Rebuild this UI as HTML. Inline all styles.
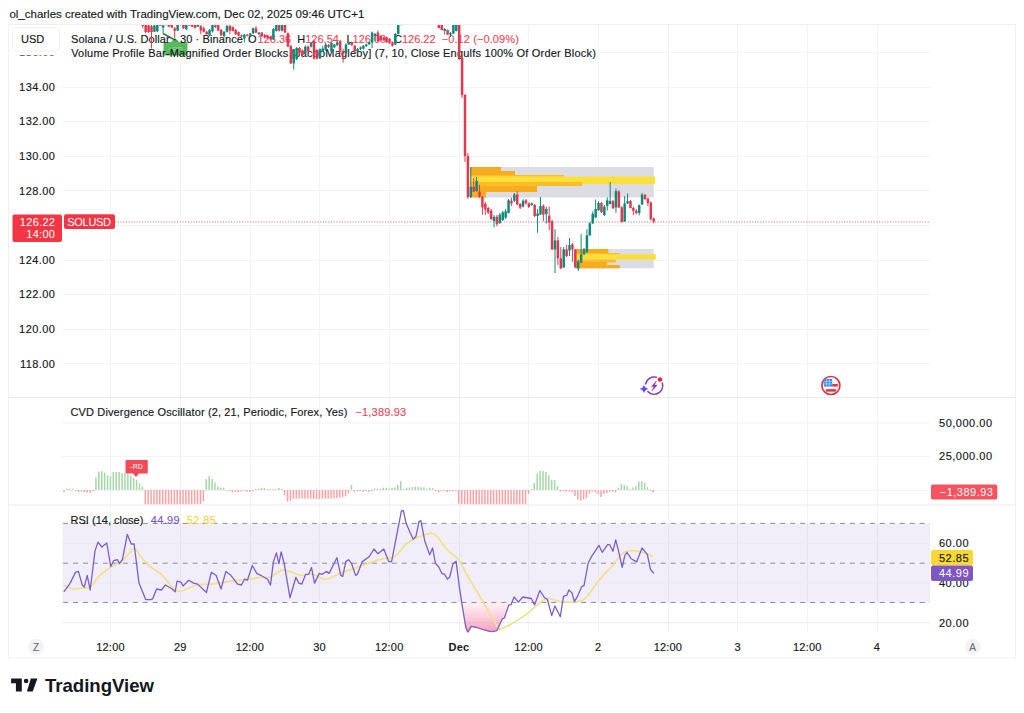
<!DOCTYPE html>
<html><head><meta charset="utf-8"><style>
html,body{margin:0;padding:0;background:#fff;width:1024px;height:713px;overflow:hidden}
svg{display:block;font-family:"Liberation Sans", sans-serif}
</style></head><body>
<svg width="1024" height="713" viewBox="0 0 1024 713">
<rect x="0" y="0" width="1024" height="713" fill="#ffffff"/>
<text x="9.4" y="18.2" font-size="11.5" fill="#131722" stroke="#131722" stroke-width="0.15">ol_charles created with TradingView.com, Dec 02, 2025 09:46 UTC+1</text>
<line x1="110.5" y1="25" x2="110.5" y2="632" stroke="#f2f3f5" stroke-width="1"/>
<line x1="180.5" y1="25" x2="180.5" y2="632" stroke="#f2f3f5" stroke-width="1"/>
<line x1="250.5" y1="25" x2="250.5" y2="632" stroke="#f2f3f5" stroke-width="1"/>
<line x1="319.5" y1="25" x2="319.5" y2="632" stroke="#f2f3f5" stroke-width="1"/>
<line x1="389.5" y1="25" x2="389.5" y2="632" stroke="#f2f3f5" stroke-width="1"/>
<line x1="459.5" y1="25" x2="459.5" y2="632" stroke="#f2f3f5" stroke-width="1"/>
<line x1="528.5" y1="25" x2="528.5" y2="632" stroke="#f2f3f5" stroke-width="1"/>
<line x1="598.5" y1="25" x2="598.5" y2="632" stroke="#f2f3f5" stroke-width="1"/>
<line x1="668.5" y1="25" x2="668.5" y2="632" stroke="#f2f3f5" stroke-width="1"/>
<line x1="737.5" y1="25" x2="737.5" y2="632" stroke="#f2f3f5" stroke-width="1"/>
<line x1="807.5" y1="25" x2="807.5" y2="632" stroke="#f2f3f5" stroke-width="1"/>
<line x1="877.5" y1="25" x2="877.5" y2="632" stroke="#f2f3f5" stroke-width="1"/>
<line x1="62.5" y1="52.5" x2="930" y2="52.5" stroke="#f2f3f5"/>
<line x1="62.5" y1="87.5" x2="930" y2="87.5" stroke="#f2f3f5"/>
<line x1="62.5" y1="121.5" x2="930" y2="121.5" stroke="#f2f3f5"/>
<line x1="62.5" y1="156.5" x2="930" y2="156.5" stroke="#f2f3f5"/>
<line x1="62.5" y1="190.5" x2="930" y2="190.5" stroke="#f2f3f5"/>
<line x1="62.5" y1="225.5" x2="930" y2="225.5" stroke="#f2f3f5"/>
<line x1="62.5" y1="260.5" x2="930" y2="260.5" stroke="#f2f3f5"/>
<line x1="62.5" y1="294.5" x2="930" y2="294.5" stroke="#f2f3f5"/>
<line x1="62.5" y1="329.5" x2="930" y2="329.5" stroke="#f2f3f5"/>
<line x1="62.5" y1="363.5" x2="930" y2="363.5" stroke="#f2f3f5"/>
<rect x="470.0" y="167.0" width="183.7" height="30.5" fill="#dbdce4" fill-opacity="1"/>
<rect x="470.0" y="167.0" width="31.0" height="4.0" fill="#f7ab1f" fill-opacity="1"/>
<rect x="470.0" y="171.0" width="45.0" height="4.0" fill="#f7ab1f" fill-opacity="1"/>
<rect x="470.0" y="175.0" width="94.0" height="3.0" fill="#fbbd26" fill-opacity="1"/>
<rect x="470.0" y="176.5" width="185.0" height="7.5" fill="#fbe03c" fill-opacity="1"/>
<rect x="470.0" y="182.0" width="112.0" height="4.0" fill="#fbbd26" fill-opacity="1"/>
<rect x="470.0" y="186.0" width="67.0" height="6.0" fill="#f7ab1f" fill-opacity="1"/>
<rect x="470.0" y="192.0" width="16.0" height="5.5" fill="#f7ab1f" fill-opacity="1"/>
<rect x="575.3" y="249.0" width="78.4" height="19.3" fill="#dbdce4" fill-opacity="1"/>
<rect x="575.3" y="249.0" width="33.0" height="4.0" fill="#f7ab1f" fill-opacity="1"/>
<rect x="575.3" y="253.0" width="44.5" height="2.0" fill="#fbbd26" fill-opacity="1"/>
<rect x="575.3" y="254.2" width="80.5" height="5.3" fill="#fbe03c" fill-opacity="1"/>
<rect x="575.3" y="259.5" width="40.5" height="3.0" fill="#fbbd26" fill-opacity="1"/>
<rect x="575.3" y="262.0" width="31.7" height="3.0" fill="#f7ab1f" fill-opacity="1"/>
<rect x="575.3" y="265.0" width="44.5" height="3.3" fill="#f7ab1f" fill-opacity="1"/>
<rect x="66" y="28.5" width="456" height="18.5" fill="#ffffff"/>
<rect x="66" y="47" width="534" height="15" fill="#ffffff"/>
<line x1="163" y1="33.5" x2="177.6" y2="41.5" stroke="#2d7a35" stroke-width="1.5"/>
<path d="M163.5 42 L171 42 L175 38 L179 42 L186.5 42 Q187.5 42 187.5 43 L187.5 54.5 Q187.5 55.5 186.5 55.5 L164.5 55.5 Q163.5 55.5 163.5 54.5 Z" fill="#46b04c" fill-opacity="0.9"/>
<text x="175.5" y="51.5" font-size="7" fill="#ffffff" fill-opacity="0.45" text-anchor="middle">+RD</text>
<text x="71" y="42.6" font-size="11" letter-spacing="0.11" fill="#131722" stroke="#131722" stroke-width="0.15">Solana / U.S. Dollar · 30 · Binance</text>
<text x="247.9" y="42.6" font-size="11" fill="#131722" stroke="#131722" stroke-width="0.15">O</text>
<text x="257.6" y="42.6" font-size="11" fill="#e24c5e" stroke="#e24c5e" stroke-width="0.15">126.36</text>
<text x="297.3" y="42.6" font-size="11" fill="#131722" stroke="#131722" stroke-width="0.15">H<tspan fill="#e24c5e" stroke="#e24c5e">126.54</tspan></text>
<text x="346.4" y="42.6" font-size="11" fill="#131722" stroke="#131722" stroke-width="0.15">L<tspan fill="#e24c5e" stroke="#e24c5e">126.00</tspan></text>
<text x="394" y="42.6" font-size="11" fill="#131722" stroke="#131722" stroke-width="0.15">C<tspan fill="#e24c5e" stroke="#e24c5e">126.22</tspan></text>
<text x="441.7" y="42.6" font-size="11" letter-spacing="0.1" fill="#e24c5e" stroke="#e24c5e" stroke-width="0.15">−0.12 (−0.09%)</text>
<text x="71.2" y="57.4" font-size="11" letter-spacing="0.2" fill="#131722" stroke="#131722" stroke-width="0.15">Volume Profile Bar-Magnified Order Blocks [JacobMagleby] (7, 10, Close Engulfs 100% Of Order Block)</text>
<defs><clipPath id="cm"><rect x="62.5" y="24.5" width="867.5" height="372.5"/></clipPath><clipPath id="cc"><rect x="62.5" y="397.5" width="867.5" height="107"/></clipPath><clipPath id="cr"><rect x="62.5" y="505.5" width="867.5" height="127"/></clipPath><linearGradient id="os" x1="0" y1="0" x2="0" y2="1"><stop offset="0" stop-color="#f48fb1" stop-opacity="0.12"/><stop offset="1" stop-color="#f06292" stop-opacity="0.62"/></linearGradient></defs>
<g clip-path="url(#cm)">
<line x1="64.39" y1="-42.4" x2="64.39" y2="-28.0" stroke="#11897a" stroke-width="1"/>
<rect x="63.14" y="-40.4" width="2.5" height="10.4" fill="#11897a"/>
<line x1="67.29" y1="-42.4" x2="67.29" y2="-36.6" stroke="#dd3a52" stroke-width="1"/>
<rect x="66.04" y="-40.4" width="2.5" height="1.8" fill="#dd3a52"/>
<line x1="70.20" y1="-40.6" x2="70.20" y2="-32.8" stroke="#dd3a52" stroke-width="1"/>
<rect x="68.95" y="-38.6" width="2.5" height="3.8" fill="#dd3a52"/>
<line x1="73.10" y1="-39.5" x2="73.10" y2="-32.8" stroke="#11897a" stroke-width="1"/>
<rect x="71.85" y="-37.5" width="2.5" height="2.7" fill="#11897a"/>
<line x1="76.00" y1="-39.5" x2="76.00" y2="-34.2" stroke="#dd3a52" stroke-width="1"/>
<rect x="74.75" y="-37.5" width="2.5" height="1.3" fill="#dd3a52"/>
<line x1="78.91" y1="-38.2" x2="78.91" y2="-32.7" stroke="#dd3a52" stroke-width="1"/>
<rect x="77.66" y="-36.2" width="2.5" height="1.6" fill="#dd3a52"/>
<line x1="81.81" y1="-39.0" x2="81.81" y2="-32.7" stroke="#11897a" stroke-width="1"/>
<rect x="80.56" y="-37.0" width="2.5" height="2.3" fill="#11897a"/>
<line x1="84.71" y1="-39.0" x2="84.71" y2="-31.4" stroke="#dd3a52" stroke-width="1"/>
<rect x="83.46" y="-37.0" width="2.5" height="3.5" fill="#dd3a52"/>
<line x1="87.62" y1="-35.4" x2="87.62" y2="-29.6" stroke="#dd3a52" stroke-width="1"/>
<rect x="86.37" y="-33.4" width="2.5" height="1.9" fill="#dd3a52"/>
<line x1="90.52" y1="-33.6" x2="90.52" y2="-27.3" stroke="#dd3a52" stroke-width="1"/>
<rect x="89.27" y="-31.6" width="2.5" height="2.2" fill="#dd3a52"/>
<line x1="93.42" y1="-36.0" x2="93.42" y2="-27.3" stroke="#11897a" stroke-width="1"/>
<rect x="92.17" y="-34.0" width="2.5" height="4.7" fill="#11897a"/>
<line x1="96.33" y1="-36.0" x2="96.33" y2="-29.4" stroke="#dd3a52" stroke-width="1"/>
<rect x="95.08" y="-34.0" width="2.5" height="2.6" fill="#dd3a52"/>
<line x1="99.23" y1="-34.2" x2="99.23" y2="-29.4" stroke="#11897a" stroke-width="1"/>
<rect x="97.98" y="-32.2" width="2.5" height="1.0" fill="#11897a"/>
<line x1="102.13" y1="-34.2" x2="102.13" y2="-23.5" stroke="#dd3a52" stroke-width="1"/>
<rect x="100.88" y="-32.2" width="2.5" height="6.7" fill="#dd3a52"/>
<line x1="105.03" y1="-27.5" x2="105.03" y2="-23.5" stroke="#11897a" stroke-width="1"/>
<rect x="103.78" y="-25.5" width="2.5" height="1.0" fill="#11897a"/>
<line x1="107.94" y1="-31.8" x2="107.94" y2="-23.5" stroke="#11897a" stroke-width="1"/>
<rect x="106.69" y="-29.8" width="2.5" height="4.3" fill="#11897a"/>
<line x1="110.84" y1="-31.8" x2="110.84" y2="-19.3" stroke="#dd3a52" stroke-width="1"/>
<rect x="109.59" y="-29.8" width="2.5" height="8.4" fill="#dd3a52"/>
<line x1="113.74" y1="-23.3" x2="113.74" y2="-18.5" stroke="#dd3a52" stroke-width="1"/>
<rect x="112.49" y="-21.3" width="2.5" height="1.0" fill="#dd3a52"/>
<line x1="116.65" y1="-24.1" x2="116.65" y2="-18.5" stroke="#11897a" stroke-width="1"/>
<rect x="115.40" y="-22.1" width="2.5" height="1.6" fill="#11897a"/>
<line x1="119.55" y1="-24.1" x2="119.55" y2="-19.5" stroke="#dd3a52" stroke-width="1"/>
<rect x="118.30" y="-22.1" width="2.5" height="1.0" fill="#dd3a52"/>
<line x1="122.45" y1="-26.2" x2="122.45" y2="-19.5" stroke="#11897a" stroke-width="1"/>
<rect x="121.20" y="-24.2" width="2.5" height="2.7" fill="#11897a"/>
<line x1="125.35" y1="-26.4" x2="125.35" y2="-22.2" stroke="#11897a" stroke-width="1"/>
<rect x="124.10" y="-24.4" width="2.5" height="1.0" fill="#11897a"/>
<line x1="128.26" y1="-26.4" x2="128.26" y2="-17.4" stroke="#dd3a52" stroke-width="1"/>
<rect x="127.01" y="-24.4" width="2.5" height="5.0" fill="#dd3a52"/>
<line x1="131.16" y1="-24.2" x2="131.16" y2="-17.4" stroke="#11897a" stroke-width="1"/>
<rect x="129.91" y="-22.2" width="2.5" height="2.8" fill="#11897a"/>
<line x1="134.06" y1="-24.2" x2="134.06" y2="-18.3" stroke="#dd3a52" stroke-width="1"/>
<rect x="132.81" y="-22.2" width="2.5" height="2.0" fill="#dd3a52"/>
<line x1="136.97" y1="-22.3" x2="136.97" y2="-16.9" stroke="#dd3a52" stroke-width="1"/>
<rect x="135.72" y="-20.3" width="2.5" height="1.3" fill="#dd3a52"/>
<line x1="139.87" y1="-21.7" x2="139.87" y2="-16.9" stroke="#11897a" stroke-width="1"/>
<rect x="138.62" y="-19.7" width="2.5" height="1.0" fill="#11897a"/>
<line x1="142.77" y1="15.0" x2="142.77" y2="28.0" stroke="#dd3a52" stroke-width="1"/>
<rect x="141.52" y="20.0" width="2.5" height="6.0" fill="#dd3a52"/>
<line x1="145.68" y1="22.0" x2="145.68" y2="33.4" stroke="#dd3a52" stroke-width="1"/>
<rect x="144.43" y="24.5" width="2.5" height="7.5" fill="#dd3a52"/>
<line x1="148.58" y1="24.0" x2="148.58" y2="33.0" stroke="#dd3a52" stroke-width="1"/>
<rect x="147.33" y="25.4" width="2.5" height="6.6" fill="#dd3a52"/>
<line x1="151.48" y1="25.0" x2="151.48" y2="48.5" stroke="#dd3a52" stroke-width="1"/>
<rect x="150.23" y="26.2" width="2.5" height="5.8" fill="#dd3a52"/>
<line x1="154.39" y1="24.0" x2="154.39" y2="32.0" stroke="#11897a" stroke-width="1"/>
<rect x="153.14" y="25.4" width="2.5" height="6.3" fill="#11897a"/>
<line x1="157.29" y1="22.0" x2="157.29" y2="32.0" stroke="#11897a" stroke-width="1"/>
<rect x="156.04" y="24.5" width="2.5" height="6.8" fill="#11897a"/>
<line x1="160.19" y1="23.0" x2="160.19" y2="26.0" stroke="#dd3a52" stroke-width="1"/>
<rect x="158.94" y="24.5" width="2.5" height="1.0" fill="#dd3a52"/>
<line x1="163.09" y1="24.0" x2="163.09" y2="33.4" stroke="#11897a" stroke-width="1"/>
<rect x="161.84" y="25.4" width="2.5" height="2.1" fill="#11897a"/>
<line x1="166.00" y1="20.0" x2="166.00" y2="25.5" stroke="#dd3a52" stroke-width="1"/>
<rect x="164.75" y="23.0" width="2.5" height="1.5" fill="#dd3a52"/>
<line x1="168.90" y1="24.0" x2="168.90" y2="27.0" stroke="#dd3a52" stroke-width="1"/>
<rect x="167.65" y="25.0" width="2.5" height="1.5" fill="#dd3a52"/>
<line x1="171.80" y1="24.0" x2="171.80" y2="28.0" stroke="#dd3a52" stroke-width="1"/>
<rect x="170.55" y="25.0" width="2.5" height="2.5" fill="#dd3a52"/>
<line x1="174.71" y1="27.0" x2="174.71" y2="38.0" stroke="#dd3a52" stroke-width="1"/>
<rect x="173.46" y="28.3" width="2.5" height="2.5" fill="#dd3a52"/>
<line x1="177.61" y1="22.0" x2="177.61" y2="31.0" stroke="#11897a" stroke-width="1"/>
<rect x="176.36" y="24.4" width="2.5" height="6.2" fill="#11897a"/>
<line x1="180.51" y1="22.0" x2="180.51" y2="25.5" stroke="#dd3a52" stroke-width="1"/>
<rect x="179.26" y="24.0" width="2.5" height="1.0" fill="#dd3a52"/>
<line x1="183.41" y1="22.0" x2="183.41" y2="29.0" stroke="#dd3a52" stroke-width="1"/>
<rect x="182.16" y="24.4" width="2.5" height="3.9" fill="#dd3a52"/>
<line x1="186.32" y1="22.0" x2="186.32" y2="30.2" stroke="#11897a" stroke-width="1"/>
<rect x="185.07" y="24.4" width="2.5" height="4.6" fill="#11897a"/>
<line x1="189.22" y1="23.0" x2="189.22" y2="25.5" stroke="#dd3a52" stroke-width="1"/>
<rect x="187.97" y="24.5" width="2.5" height="1.0" fill="#dd3a52"/>
<line x1="192.12" y1="23.0" x2="192.12" y2="27.0" stroke="#dd3a52" stroke-width="1"/>
<rect x="190.87" y="24.4" width="2.5" height="2.3" fill="#dd3a52"/>
<line x1="195.03" y1="23.0" x2="195.03" y2="28.5" stroke="#dd3a52" stroke-width="1"/>
<rect x="193.78" y="24.4" width="2.5" height="3.5" fill="#dd3a52"/>
<line x1="197.93" y1="24.0" x2="197.93" y2="27.0" stroke="#11897a" stroke-width="1"/>
<rect x="196.68" y="25.0" width="2.5" height="1.7" fill="#11897a"/>
<line x1="200.83" y1="25.0" x2="200.83" y2="34.2" stroke="#dd3a52" stroke-width="1"/>
<rect x="199.58" y="26.3" width="2.5" height="4.3" fill="#dd3a52"/>
<line x1="203.74" y1="26.5" x2="203.74" y2="32.5" stroke="#dd3a52" stroke-width="1"/>
<rect x="202.49" y="28.3" width="2.5" height="3.5" fill="#dd3a52"/>
<line x1="206.64" y1="31.0" x2="206.64" y2="35.0" stroke="#dd3a52" stroke-width="1"/>
<rect x="205.39" y="31.8" width="2.5" height="2.4" fill="#dd3a52"/>
<line x1="209.54" y1="29.0" x2="209.54" y2="36.0" stroke="#11897a" stroke-width="1"/>
<rect x="208.29" y="29.9" width="2.5" height="5.4" fill="#11897a"/>
<line x1="212.45" y1="24.0" x2="212.45" y2="32.5" stroke="#11897a" stroke-width="1"/>
<rect x="211.20" y="25.1" width="2.5" height="6.3" fill="#11897a"/>
<line x1="215.35" y1="24.0" x2="215.35" y2="28.0" stroke="#dd3a52" stroke-width="1"/>
<rect x="214.10" y="25.0" width="2.5" height="2.0" fill="#dd3a52"/>
<line x1="218.25" y1="24.5" x2="218.25" y2="31.0" stroke="#dd3a52" stroke-width="1"/>
<rect x="217.00" y="25.1" width="2.5" height="5.5" fill="#dd3a52"/>
<line x1="221.15" y1="29.0" x2="221.15" y2="36.0" stroke="#dd3a52" stroke-width="1"/>
<rect x="219.90" y="29.9" width="2.5" height="5.4" fill="#dd3a52"/>
<line x1="224.06" y1="31.0" x2="224.06" y2="37.5" stroke="#11897a" stroke-width="1"/>
<rect x="222.81" y="31.8" width="2.5" height="4.3" fill="#11897a"/>
<line x1="226.96" y1="25.0" x2="226.96" y2="32.5" stroke="#11897a" stroke-width="1"/>
<rect x="225.71" y="26.0" width="2.5" height="5.8" fill="#11897a"/>
<line x1="229.86" y1="25.0" x2="229.86" y2="34.2" stroke="#dd3a52" stroke-width="1"/>
<rect x="228.61" y="26.0" width="2.5" height="4.6" fill="#dd3a52"/>
<line x1="232.77" y1="26.5" x2="232.77" y2="31.5" stroke="#dd3a52" stroke-width="1"/>
<rect x="231.52" y="27.1" width="2.5" height="3.9" fill="#dd3a52"/>
<line x1="235.67" y1="29.0" x2="235.67" y2="35.0" stroke="#dd3a52" stroke-width="1"/>
<rect x="234.42" y="29.9" width="2.5" height="4.3" fill="#dd3a52"/>
<line x1="238.57" y1="31.5" x2="238.57" y2="36.5" stroke="#dd3a52" stroke-width="1"/>
<rect x="237.32" y="32.2" width="2.5" height="3.5" fill="#dd3a52"/>
<line x1="241.48" y1="34.5" x2="241.48" y2="37.0" stroke="#dd3a52" stroke-width="1"/>
<rect x="240.23" y="35.3" width="2.5" height="1.2" fill="#dd3a52"/>
<line x1="244.38" y1="34.0" x2="244.38" y2="42.4" stroke="#11897a" stroke-width="1"/>
<rect x="243.13" y="34.6" width="2.5" height="3.9" fill="#11897a"/>
<line x1="247.28" y1="34.0" x2="247.28" y2="36.5" stroke="#dd3a52" stroke-width="1"/>
<rect x="246.03" y="34.6" width="2.5" height="1.1" fill="#dd3a52"/>
<line x1="250.18" y1="33.0" x2="250.18" y2="36.5" stroke="#11897a" stroke-width="1"/>
<rect x="248.93" y="33.4" width="2.5" height="2.3" fill="#11897a"/>
<line x1="253.09" y1="27.5" x2="253.09" y2="34.0" stroke="#11897a" stroke-width="1"/>
<rect x="251.84" y="28.3" width="2.5" height="5.1" fill="#11897a"/>
<line x1="255.99" y1="26.0" x2="255.99" y2="33.2" stroke="#dd3a52" stroke-width="1"/>
<rect x="254.74" y="28.3" width="2.5" height="4.3" fill="#dd3a52"/>
<line x1="258.89" y1="32.0" x2="258.89" y2="35.0" stroke="#11897a" stroke-width="1"/>
<rect x="257.64" y="32.6" width="2.5" height="1.6" fill="#11897a"/>
<line x1="261.80" y1="32.0" x2="261.80" y2="37.0" stroke="#dd3a52" stroke-width="1"/>
<rect x="260.55" y="32.6" width="2.5" height="3.4" fill="#dd3a52"/>
<line x1="264.70" y1="34.0" x2="264.70" y2="38.5" stroke="#dd3a52" stroke-width="1"/>
<rect x="263.45" y="35.0" width="2.5" height="2.5" fill="#dd3a52"/>
<line x1="267.60" y1="35.0" x2="267.60" y2="39.0" stroke="#dd3a52" stroke-width="1"/>
<rect x="266.35" y="36.0" width="2.5" height="2.0" fill="#dd3a52"/>
<line x1="270.50" y1="36.0" x2="270.50" y2="40.0" stroke="#dd3a52" stroke-width="1"/>
<rect x="269.25" y="37.0" width="2.5" height="2.3" fill="#dd3a52"/>
<line x1="273.41" y1="28.0" x2="273.41" y2="40.0" stroke="#11897a" stroke-width="1"/>
<rect x="272.16" y="29.0" width="2.5" height="10.3" fill="#11897a"/>
<line x1="276.31" y1="23.0" x2="276.31" y2="31.5" stroke="#11897a" stroke-width="1"/>
<rect x="275.06" y="24.7" width="2.5" height="6.3" fill="#11897a"/>
<line x1="279.21" y1="23.0" x2="279.21" y2="31.5" stroke="#dd3a52" stroke-width="1"/>
<rect x="277.96" y="24.7" width="2.5" height="5.9" fill="#dd3a52"/>
<line x1="282.12" y1="23.0" x2="282.12" y2="31.5" stroke="#11897a" stroke-width="1"/>
<rect x="280.87" y="24.7" width="2.5" height="5.9" fill="#11897a"/>
<line x1="285.02" y1="23.5" x2="285.02" y2="33.0" stroke="#dd3a52" stroke-width="1"/>
<rect x="283.77" y="24.8" width="2.5" height="7.7" fill="#dd3a52"/>
<line x1="287.92" y1="32.5" x2="287.92" y2="47.0" stroke="#dd3a52" stroke-width="1"/>
<rect x="286.67" y="33.2" width="2.5" height="13.4" fill="#dd3a52"/>
<line x1="290.83" y1="45.0" x2="290.83" y2="64.0" stroke="#dd3a52" stroke-width="1"/>
<rect x="289.58" y="45.9" width="2.5" height="17.5" fill="#dd3a52"/>
<line x1="293.73" y1="49.0" x2="293.73" y2="69.7" stroke="#11897a" stroke-width="1"/>
<rect x="292.48" y="50.0" width="2.5" height="13.4" fill="#11897a"/>
<line x1="296.63" y1="47.0" x2="296.63" y2="60.0" stroke="#11897a" stroke-width="1"/>
<rect x="295.38" y="48.0" width="2.5" height="11.2" fill="#11897a"/>
<line x1="299.53" y1="47.0" x2="299.53" y2="54.0" stroke="#dd3a52" stroke-width="1"/>
<rect x="298.28" y="48.0" width="2.5" height="4.9" fill="#dd3a52"/>
<line x1="302.44" y1="49.5" x2="302.44" y2="57.0" stroke="#dd3a52" stroke-width="1"/>
<rect x="301.19" y="50.5" width="2.5" height="4.5" fill="#dd3a52"/>
<line x1="305.34" y1="45.5" x2="305.34" y2="54.0" stroke="#11897a" stroke-width="1"/>
<rect x="304.09" y="46.6" width="2.5" height="6.3" fill="#11897a"/>
<line x1="308.24" y1="45.5" x2="308.24" y2="52.5" stroke="#dd3a52" stroke-width="1"/>
<rect x="306.99" y="46.6" width="2.5" height="4.9" fill="#dd3a52"/>
<line x1="311.15" y1="42.0" x2="311.15" y2="47.5" stroke="#11897a" stroke-width="1"/>
<rect x="309.90" y="43.0" width="2.5" height="3.6" fill="#11897a"/>
<line x1="314.05" y1="40.0" x2="314.05" y2="59.5" stroke="#dd3a52" stroke-width="1"/>
<rect x="312.80" y="41.0" width="2.5" height="17.5" fill="#dd3a52"/>
<line x1="316.95" y1="49.0" x2="316.95" y2="59.5" stroke="#dd3a52" stroke-width="1"/>
<rect x="315.70" y="50.0" width="2.5" height="8.5" fill="#dd3a52"/>
<line x1="319.86" y1="48.5" x2="319.86" y2="59.0" stroke="#11897a" stroke-width="1"/>
<rect x="318.61" y="49.4" width="2.5" height="9.1" fill="#11897a"/>
<line x1="322.76" y1="46.0" x2="322.76" y2="52.0" stroke="#11897a" stroke-width="1"/>
<rect x="321.51" y="48.5" width="2.5" height="2.5" fill="#11897a"/>
<line x1="325.66" y1="43.0" x2="325.66" y2="51.0" stroke="#11897a" stroke-width="1"/>
<rect x="324.41" y="44.5" width="2.5" height="5.5" fill="#11897a"/>
<line x1="328.56" y1="44.0" x2="328.56" y2="48.0" stroke="#dd3a52" stroke-width="1"/>
<rect x="327.31" y="45.0" width="2.5" height="2.0" fill="#dd3a52"/>
<line x1="331.47" y1="42.0" x2="331.47" y2="52.0" stroke="#11897a" stroke-width="1"/>
<rect x="330.22" y="43.0" width="2.5" height="8.5" fill="#11897a"/>
<line x1="334.37" y1="44.0" x2="334.37" y2="48.0" stroke="#11897a" stroke-width="1"/>
<rect x="333.12" y="44.5" width="2.5" height="2.8" fill="#11897a"/>
<line x1="337.27" y1="41.5" x2="337.27" y2="46.0" stroke="#11897a" stroke-width="1"/>
<rect x="336.02" y="42.4" width="2.5" height="2.8" fill="#11897a"/>
<line x1="340.18" y1="40.0" x2="340.18" y2="52.5" stroke="#dd3a52" stroke-width="1"/>
<rect x="338.93" y="41.0" width="2.5" height="10.5" fill="#dd3a52"/>
<line x1="343.08" y1="48.7" x2="343.08" y2="62.7" stroke="#dd3a52" stroke-width="1"/>
<rect x="341.83" y="51.5" width="2.5" height="2.5" fill="#dd3a52"/>
<line x1="345.98" y1="43.5" x2="345.98" y2="53.5" stroke="#11897a" stroke-width="1"/>
<rect x="344.73" y="44.5" width="2.5" height="8.4" fill="#11897a"/>
<line x1="348.89" y1="41.5" x2="348.89" y2="45.0" stroke="#11897a" stroke-width="1"/>
<rect x="347.64" y="42.3" width="2.5" height="2.2" fill="#11897a"/>
<line x1="351.79" y1="41.5" x2="351.79" y2="46.0" stroke="#dd3a52" stroke-width="1"/>
<rect x="350.54" y="42.3" width="2.5" height="2.7" fill="#dd3a52"/>
<line x1="354.69" y1="45.0" x2="354.69" y2="52.5" stroke="#dd3a52" stroke-width="1"/>
<rect x="353.44" y="45.8" width="2.5" height="5.7" fill="#dd3a52"/>
<line x1="357.59" y1="48.0" x2="357.59" y2="52.0" stroke="#11897a" stroke-width="1"/>
<rect x="356.34" y="49.0" width="2.5" height="2.0" fill="#11897a"/>
<line x1="360.50" y1="46.5" x2="360.50" y2="50.0" stroke="#11897a" stroke-width="1"/>
<rect x="359.25" y="47.5" width="2.5" height="1.5" fill="#11897a"/>
<line x1="363.40" y1="45.0" x2="363.40" y2="49.5" stroke="#11897a" stroke-width="1"/>
<rect x="362.15" y="45.8" width="2.5" height="2.8" fill="#11897a"/>
<line x1="366.30" y1="43.5" x2="366.30" y2="47.0" stroke="#11897a" stroke-width="1"/>
<rect x="365.05" y="44.4" width="2.5" height="1.6" fill="#11897a"/>
<line x1="369.21" y1="41.5" x2="369.21" y2="45.0" stroke="#11897a" stroke-width="1"/>
<rect x="367.96" y="42.3" width="2.5" height="2.1" fill="#11897a"/>
<line x1="372.11" y1="31.5" x2="372.11" y2="48.0" stroke="#11897a" stroke-width="1"/>
<rect x="370.86" y="32.5" width="2.5" height="9.8" fill="#11897a"/>
<line x1="375.01" y1="33.0" x2="375.01" y2="41.0" stroke="#11897a" stroke-width="1"/>
<rect x="373.76" y="34.0" width="2.5" height="2.0" fill="#11897a"/>
<line x1="377.92" y1="30.5" x2="377.92" y2="42.0" stroke="#dd3a52" stroke-width="1"/>
<rect x="376.67" y="32.5" width="2.5" height="8.5" fill="#dd3a52"/>
<line x1="380.82" y1="35.0" x2="380.82" y2="41.0" stroke="#dd3a52" stroke-width="1"/>
<rect x="379.57" y="36.0" width="2.5" height="4.0" fill="#dd3a52"/>
<line x1="383.72" y1="36.5" x2="383.72" y2="41.0" stroke="#dd3a52" stroke-width="1"/>
<rect x="382.47" y="37.4" width="2.5" height="2.6" fill="#dd3a52"/>
<line x1="386.62" y1="36.5" x2="386.62" y2="43.0" stroke="#dd3a52" stroke-width="1"/>
<rect x="385.38" y="37.4" width="2.5" height="4.9" fill="#dd3a52"/>
<line x1="389.53" y1="38.0" x2="389.53" y2="44.0" stroke="#dd3a52" stroke-width="1"/>
<rect x="388.28" y="38.8" width="2.5" height="4.2" fill="#dd3a52"/>
<line x1="392.43" y1="41.5" x2="392.43" y2="46.5" stroke="#dd3a52" stroke-width="1"/>
<rect x="391.18" y="42.3" width="2.5" height="3.5" fill="#dd3a52"/>
<line x1="395.33" y1="33.0" x2="395.33" y2="45.0" stroke="#11897a" stroke-width="1"/>
<rect x="394.08" y="33.9" width="2.5" height="10.5" fill="#11897a"/>
<line x1="398.24" y1="20.0" x2="398.24" y2="34.5" stroke="#11897a" stroke-width="1"/>
<rect x="396.99" y="24.8" width="2.5" height="9.1" fill="#11897a"/>
<line x1="401.14" y1="14.0" x2="401.14" y2="25.5" stroke="#dd3a52" stroke-width="1"/>
<rect x="399.89" y="18.0" width="2.5" height="6.8" fill="#dd3a52"/>
<line x1="404.04" y1="2.7" x2="404.04" y2="14.0" stroke="#11897a" stroke-width="1"/>
<rect x="402.79" y="4.7" width="2.5" height="7.3" fill="#11897a"/>
<line x1="406.95" y1="0.7" x2="406.95" y2="6.7" stroke="#11897a" stroke-width="1"/>
<rect x="405.70" y="2.7" width="2.5" height="2.0" fill="#11897a"/>
<line x1="409.85" y1="0.7" x2="409.85" y2="6.1" stroke="#dd3a52" stroke-width="1"/>
<rect x="408.60" y="2.7" width="2.5" height="1.4" fill="#dd3a52"/>
<line x1="412.75" y1="-2.3" x2="412.75" y2="6.1" stroke="#11897a" stroke-width="1"/>
<rect x="411.50" y="-0.3" width="2.5" height="4.4" fill="#11897a"/>
<line x1="415.65" y1="-3.2" x2="415.65" y2="1.7" stroke="#11897a" stroke-width="1"/>
<rect x="414.40" y="-1.2" width="2.5" height="1.0" fill="#11897a"/>
<line x1="418.56" y1="-6.1" x2="418.56" y2="0.8" stroke="#11897a" stroke-width="1"/>
<rect x="417.31" y="-4.1" width="2.5" height="2.9" fill="#11897a"/>
<line x1="421.46" y1="-6.1" x2="421.46" y2="-0.8" stroke="#dd3a52" stroke-width="1"/>
<rect x="420.21" y="-4.1" width="2.5" height="1.3" fill="#dd3a52"/>
<line x1="424.36" y1="-4.8" x2="424.36" y2="-0.6" stroke="#dd3a52" stroke-width="1"/>
<rect x="423.11" y="-2.8" width="2.5" height="1.0" fill="#dd3a52"/>
<line x1="427.27" y1="-4.6" x2="427.27" y2="-0.2" stroke="#dd3a52" stroke-width="1"/>
<rect x="426.02" y="-2.6" width="2.5" height="1.0" fill="#dd3a52"/>
<line x1="430.17" y1="-4.2" x2="430.17" y2="7.3" stroke="#dd3a52" stroke-width="1"/>
<rect x="428.92" y="-2.2" width="2.5" height="7.6" fill="#dd3a52"/>
<line x1="433.07" y1="3.3" x2="433.07" y2="9.1" stroke="#dd3a52" stroke-width="1"/>
<rect x="431.82" y="5.3" width="2.5" height="1.8" fill="#dd3a52"/>
<line x1="435.98" y1="5.1" x2="435.98" y2="9.7" stroke="#dd3a52" stroke-width="1"/>
<rect x="434.73" y="7.1" width="2.5" height="1.0" fill="#dd3a52"/>
<line x1="438.88" y1="20.0" x2="438.88" y2="28.5" stroke="#dd3a52" stroke-width="1"/>
<rect x="437.63" y="22.0" width="2.5" height="6.0" fill="#dd3a52"/>
<line x1="441.78" y1="22.0" x2="441.78" y2="30.5" stroke="#dd3a52" stroke-width="1"/>
<rect x="440.53" y="24.0" width="2.5" height="6.0" fill="#dd3a52"/>
<line x1="444.69" y1="28.0" x2="444.69" y2="34.6" stroke="#11897a" stroke-width="1"/>
<rect x="443.44" y="29.0" width="2.5" height="2.0" fill="#11897a"/>
<line x1="447.59" y1="29.5" x2="447.59" y2="35.0" stroke="#dd3a52" stroke-width="1"/>
<rect x="446.34" y="30.0" width="2.5" height="4.6" fill="#dd3a52"/>
<line x1="450.49" y1="32.0" x2="450.49" y2="37.0" stroke="#11897a" stroke-width="1"/>
<rect x="449.24" y="33.0" width="2.5" height="1.6" fill="#11897a"/>
<line x1="453.39" y1="24.0" x2="453.39" y2="34.0" stroke="#11897a" stroke-width="1"/>
<rect x="452.14" y="25.0" width="2.5" height="8.5" fill="#11897a"/>
<line x1="456.30" y1="22.0" x2="456.30" y2="31.5" stroke="#11897a" stroke-width="1"/>
<rect x="455.05" y="25.0" width="2.5" height="6.0" fill="#11897a"/>
<line x1="459.20" y1="20.0" x2="459.20" y2="60.0" stroke="#dd3a52" stroke-width="1"/>
<rect x="457.95" y="22.0" width="2.5" height="36.0" fill="#dd3a52"/>
<line x1="462.10" y1="57.0" x2="462.10" y2="98.0" stroke="#dd3a52" stroke-width="1"/>
<rect x="460.85" y="58.0" width="2.5" height="37.0" fill="#dd3a52"/>
<line x1="465.01" y1="94.0" x2="465.01" y2="162.0" stroke="#dd3a52" stroke-width="1"/>
<rect x="463.76" y="95.0" width="2.5" height="61.0" fill="#dd3a52"/>
<line x1="467.91" y1="153.0" x2="467.91" y2="199.0" stroke="#dd3a52" stroke-width="1"/>
<rect x="466.66" y="156.0" width="2.5" height="41.0" fill="#dd3a52"/>
<line x1="470.81" y1="167.0" x2="470.81" y2="198.0" stroke="#11897a" stroke-width="1"/>
<rect x="469.56" y="187.0" width="2.5" height="10.0" fill="#11897a"/>
<line x1="473.71" y1="178.0" x2="473.71" y2="192.0" stroke="#dd3a52" stroke-width="1"/>
<rect x="472.46" y="187.0" width="2.5" height="4.6" fill="#dd3a52"/>
<line x1="476.62" y1="177.0" x2="476.62" y2="192.0" stroke="#11897a" stroke-width="1"/>
<rect x="475.37" y="181.0" width="2.5" height="10.0" fill="#11897a"/>
<line x1="479.52" y1="184.7" x2="479.52" y2="198.0" stroke="#dd3a52" stroke-width="1"/>
<rect x="478.27" y="191.6" width="2.5" height="5.2" fill="#dd3a52"/>
<line x1="482.42" y1="196.0" x2="482.42" y2="214.7" stroke="#dd3a52" stroke-width="1"/>
<rect x="481.17" y="196.8" width="2.5" height="10.6" fill="#dd3a52"/>
<line x1="485.33" y1="202.0" x2="485.33" y2="214.7" stroke="#dd3a52" stroke-width="1"/>
<rect x="484.08" y="203.7" width="2.5" height="5.8" fill="#dd3a52"/>
<line x1="488.23" y1="207.0" x2="488.23" y2="214.0" stroke="#dd3a52" stroke-width="1"/>
<rect x="486.98" y="208.0" width="2.5" height="4.6" fill="#dd3a52"/>
<line x1="491.13" y1="209.0" x2="491.13" y2="220.0" stroke="#dd3a52" stroke-width="1"/>
<rect x="489.88" y="210.5" width="2.5" height="8.5" fill="#dd3a52"/>
<line x1="494.04" y1="215.0" x2="494.04" y2="227.4" stroke="#11897a" stroke-width="1"/>
<rect x="492.79" y="216.8" width="2.5" height="4.2" fill="#11897a"/>
<line x1="496.94" y1="215.0" x2="496.94" y2="226.3" stroke="#dd3a52" stroke-width="1"/>
<rect x="495.69" y="216.8" width="2.5" height="7.4" fill="#dd3a52"/>
<line x1="499.84" y1="213.0" x2="499.84" y2="224.0" stroke="#11897a" stroke-width="1"/>
<rect x="498.59" y="214.7" width="2.5" height="8.3" fill="#11897a"/>
<line x1="502.75" y1="211.0" x2="502.75" y2="221.0" stroke="#11897a" stroke-width="1"/>
<rect x="501.50" y="212.4" width="2.5" height="7.6" fill="#11897a"/>
<line x1="505.65" y1="209.0" x2="505.65" y2="219.0" stroke="#11897a" stroke-width="1"/>
<rect x="504.40" y="211.3" width="2.5" height="6.3" fill="#11897a"/>
<line x1="508.55" y1="199.0" x2="508.55" y2="213.5" stroke="#11897a" stroke-width="1"/>
<rect x="507.30" y="200.3" width="2.5" height="12.6" fill="#11897a"/>
<line x1="511.45" y1="197.6" x2="511.45" y2="206.0" stroke="#dd3a52" stroke-width="1"/>
<rect x="510.20" y="200.8" width="2.5" height="2.6" fill="#dd3a52"/>
<line x1="514.36" y1="193.0" x2="514.36" y2="202.0" stroke="#11897a" stroke-width="1"/>
<rect x="513.11" y="194.5" width="2.5" height="6.3" fill="#11897a"/>
<line x1="517.26" y1="191.3" x2="517.26" y2="205.0" stroke="#dd3a52" stroke-width="1"/>
<rect x="516.01" y="194.5" width="2.5" height="10.0" fill="#dd3a52"/>
<line x1="520.16" y1="203.0" x2="520.16" y2="209.0" stroke="#dd3a52" stroke-width="1"/>
<rect x="518.91" y="204.0" width="2.5" height="3.6" fill="#dd3a52"/>
<line x1="523.07" y1="199.2" x2="523.07" y2="207.5" stroke="#11897a" stroke-width="1"/>
<rect x="521.82" y="200.8" width="2.5" height="5.8" fill="#11897a"/>
<line x1="525.97" y1="199.0" x2="525.97" y2="204.5" stroke="#dd3a52" stroke-width="1"/>
<rect x="524.72" y="200.3" width="2.5" height="3.1" fill="#dd3a52"/>
<line x1="528.87" y1="202.5" x2="528.87" y2="208.0" stroke="#dd3a52" stroke-width="1"/>
<rect x="527.62" y="203.4" width="2.5" height="3.6" fill="#dd3a52"/>
<line x1="531.77" y1="202.5" x2="531.77" y2="206.0" stroke="#11897a" stroke-width="1"/>
<rect x="530.52" y="203.4" width="2.5" height="1.6" fill="#11897a"/>
<line x1="534.68" y1="204.0" x2="534.68" y2="217.0" stroke="#dd3a52" stroke-width="1"/>
<rect x="533.43" y="205.0" width="2.5" height="11.0" fill="#dd3a52"/>
<line x1="537.58" y1="209.0" x2="537.58" y2="232.9" stroke="#11897a" stroke-width="1"/>
<rect x="536.33" y="213.4" width="2.5" height="2.6" fill="#11897a"/>
<line x1="540.48" y1="197.1" x2="540.48" y2="215.0" stroke="#11897a" stroke-width="1"/>
<rect x="539.23" y="206.0" width="2.5" height="8.5" fill="#11897a"/>
<line x1="543.39" y1="204.5" x2="543.39" y2="221.3" stroke="#dd3a52" stroke-width="1"/>
<rect x="542.14" y="205.6" width="2.5" height="9.0" fill="#dd3a52"/>
<line x1="546.29" y1="206.7" x2="546.29" y2="223.6" stroke="#11897a" stroke-width="1"/>
<rect x="545.04" y="209.0" width="2.5" height="5.0" fill="#11897a"/>
<line x1="549.19" y1="206.7" x2="549.19" y2="230.0" stroke="#dd3a52" stroke-width="1"/>
<rect x="547.94" y="215.7" width="2.5" height="6.8" fill="#dd3a52"/>
<line x1="552.10" y1="220.0" x2="552.10" y2="250.0" stroke="#dd3a52" stroke-width="1"/>
<rect x="550.85" y="221.3" width="2.5" height="28.1" fill="#dd3a52"/>
<line x1="555.00" y1="229.2" x2="555.00" y2="273.0" stroke="#11897a" stroke-width="1"/>
<rect x="553.75" y="240.4" width="2.5" height="9.0" fill="#11897a"/>
<line x1="557.90" y1="237.0" x2="557.90" y2="265.0" stroke="#dd3a52" stroke-width="1"/>
<rect x="556.65" y="240.4" width="2.5" height="18.0" fill="#dd3a52"/>
<line x1="560.80" y1="247.0" x2="560.80" y2="269.0" stroke="#dd3a52" stroke-width="1"/>
<rect x="559.55" y="258.4" width="2.5" height="10.1" fill="#dd3a52"/>
<line x1="563.71" y1="247.2" x2="563.71" y2="268.0" stroke="#11897a" stroke-width="1"/>
<rect x="562.46" y="249.4" width="2.5" height="18.0" fill="#11897a"/>
<line x1="566.61" y1="245.0" x2="566.61" y2="257.0" stroke="#dd3a52" stroke-width="1"/>
<rect x="565.36" y="249.4" width="2.5" height="6.6" fill="#dd3a52"/>
<line x1="569.51" y1="238.0" x2="569.51" y2="256.0" stroke="#11897a" stroke-width="1"/>
<rect x="568.26" y="245.0" width="2.5" height="5.6" fill="#11897a"/>
<line x1="572.42" y1="243.0" x2="572.42" y2="261.8" stroke="#dd3a52" stroke-width="1"/>
<rect x="571.17" y="244.4" width="2.5" height="5.0" fill="#dd3a52"/>
<line x1="575.32" y1="249.0" x2="575.32" y2="268.0" stroke="#dd3a52" stroke-width="1"/>
<rect x="574.07" y="249.5" width="2.5" height="17.9" fill="#dd3a52"/>
<line x1="578.22" y1="260.0" x2="578.22" y2="271.0" stroke="#11897a" stroke-width="1"/>
<rect x="576.97" y="261.4" width="2.5" height="7.2" fill="#11897a"/>
<line x1="581.13" y1="234.0" x2="581.13" y2="263.0" stroke="#11897a" stroke-width="1"/>
<rect x="579.88" y="254.3" width="2.5" height="8.3" fill="#11897a"/>
<line x1="584.03" y1="248.0" x2="584.03" y2="255.0" stroke="#11897a" stroke-width="1"/>
<rect x="582.78" y="249.5" width="2.5" height="4.8" fill="#11897a"/>
<line x1="586.93" y1="229.3" x2="586.93" y2="253.0" stroke="#11897a" stroke-width="1"/>
<rect x="585.68" y="235.2" width="2.5" height="16.8" fill="#11897a"/>
<line x1="589.83" y1="222.0" x2="589.83" y2="236.0" stroke="#11897a" stroke-width="1"/>
<rect x="588.58" y="223.3" width="2.5" height="11.9" fill="#11897a"/>
<line x1="592.74" y1="211.4" x2="592.74" y2="224.0" stroke="#11897a" stroke-width="1"/>
<rect x="591.49" y="213.8" width="2.5" height="9.5" fill="#11897a"/>
<line x1="595.64" y1="199.5" x2="595.64" y2="218.0" stroke="#11897a" stroke-width="1"/>
<rect x="594.39" y="209.0" width="2.5" height="8.4" fill="#11897a"/>
<line x1="598.54" y1="201.3" x2="598.54" y2="211.0" stroke="#11897a" stroke-width="1"/>
<rect x="597.29" y="203.0" width="2.5" height="7.2" fill="#11897a"/>
<line x1="601.45" y1="202.0" x2="601.45" y2="213.0" stroke="#dd3a52" stroke-width="1"/>
<rect x="600.20" y="203.0" width="2.5" height="9.0" fill="#dd3a52"/>
<line x1="604.35" y1="205.0" x2="604.35" y2="216.0" stroke="#11897a" stroke-width="1"/>
<rect x="603.10" y="206.7" width="2.5" height="8.3" fill="#11897a"/>
<line x1="607.25" y1="197.4" x2="607.25" y2="210.5" stroke="#11897a" stroke-width="1"/>
<rect x="606.00" y="200.4" width="2.5" height="5.4" fill="#11897a"/>
<line x1="610.16" y1="182.0" x2="610.16" y2="204.3" stroke="#11897a" stroke-width="1"/>
<rect x="608.91" y="201.0" width="2.5" height="3.0" fill="#11897a"/>
<line x1="613.06" y1="200.0" x2="613.06" y2="209.0" stroke="#dd3a52" stroke-width="1"/>
<rect x="611.81" y="201.2" width="2.5" height="7.0" fill="#dd3a52"/>
<line x1="615.96" y1="188.5" x2="615.96" y2="212.8" stroke="#11897a" stroke-width="1"/>
<rect x="614.71" y="191.2" width="2.5" height="16.2" fill="#11897a"/>
<line x1="618.87" y1="190.0" x2="618.87" y2="208.0" stroke="#dd3a52" stroke-width="1"/>
<rect x="617.62" y="191.6" width="2.5" height="15.8" fill="#dd3a52"/>
<line x1="621.77" y1="206.0" x2="621.77" y2="222.5" stroke="#dd3a52" stroke-width="1"/>
<rect x="620.52" y="207.4" width="2.5" height="14.6" fill="#dd3a52"/>
<line x1="624.67" y1="196.2" x2="624.67" y2="222.0" stroke="#11897a" stroke-width="1"/>
<rect x="623.42" y="203.5" width="2.5" height="17.8" fill="#11897a"/>
<line x1="627.57" y1="193.5" x2="627.57" y2="204.0" stroke="#11897a" stroke-width="1"/>
<rect x="626.32" y="201.2" width="2.5" height="2.3" fill="#11897a"/>
<line x1="630.48" y1="200.0" x2="630.48" y2="208.5" stroke="#dd3a52" stroke-width="1"/>
<rect x="629.23" y="201.0" width="2.5" height="7.0" fill="#dd3a52"/>
<line x1="633.38" y1="206.6" x2="633.38" y2="215.0" stroke="#dd3a52" stroke-width="1"/>
<rect x="632.13" y="208.0" width="2.5" height="2.8" fill="#dd3a52"/>
<line x1="636.28" y1="209.0" x2="636.28" y2="214.5" stroke="#dd3a52" stroke-width="1"/>
<rect x="635.03" y="210.8" width="2.5" height="2.2" fill="#dd3a52"/>
<line x1="639.19" y1="204.5" x2="639.19" y2="215.4" stroke="#11897a" stroke-width="1"/>
<rect x="637.94" y="205.2" width="2.5" height="7.8" fill="#11897a"/>
<line x1="642.09" y1="193.0" x2="642.09" y2="205.0" stroke="#11897a" stroke-width="1"/>
<rect x="640.84" y="194.7" width="2.5" height="9.8" fill="#11897a"/>
<line x1="644.99" y1="194.0" x2="644.99" y2="200.0" stroke="#dd3a52" stroke-width="1"/>
<rect x="643.74" y="195.0" width="2.5" height="4.0" fill="#dd3a52"/>
<line x1="647.89" y1="197.5" x2="647.89" y2="206.0" stroke="#dd3a52" stroke-width="1"/>
<rect x="646.64" y="198.6" width="2.5" height="4.5" fill="#dd3a52"/>
<line x1="650.80" y1="201.5" x2="650.80" y2="220.0" stroke="#dd3a52" stroke-width="1"/>
<rect x="649.55" y="202.4" width="2.5" height="16.8" fill="#dd3a52"/>
<line x1="653.70" y1="217.5" x2="653.70" y2="223.4" stroke="#dd3a52" stroke-width="1"/>
<rect x="652.45" y="218.5" width="2.5" height="3.1" fill="#dd3a52"/>
</g>
<line x1="115" y1="222" x2="929" y2="222" stroke="#9c6670" stroke-opacity="0.85" stroke-width="1" stroke-dasharray="1.1 1.6"/>
<text x="55.45" y="90.8" font-size="11" letter-spacing="0.45" fill="#131722" stroke="#131722" stroke-width="0.15" text-anchor="end">134.00</text>
<text x="55.45" y="125.4" font-size="11" letter-spacing="0.45" fill="#131722" stroke="#131722" stroke-width="0.15" text-anchor="end">132.00</text>
<text x="55.45" y="160.0" font-size="11" letter-spacing="0.45" fill="#131722" stroke="#131722" stroke-width="0.15" text-anchor="end">130.00</text>
<text x="55.45" y="194.6" font-size="11" letter-spacing="0.45" fill="#131722" stroke="#131722" stroke-width="0.15" text-anchor="end">128.00</text>
<text x="55.45" y="263.8" font-size="11" letter-spacing="0.45" fill="#131722" stroke="#131722" stroke-width="0.15" text-anchor="end">124.00</text>
<text x="55.45" y="298.4" font-size="11" letter-spacing="0.45" fill="#131722" stroke="#131722" stroke-width="0.15" text-anchor="end">122.00</text>
<text x="55.45" y="333.0" font-size="11" letter-spacing="0.45" fill="#131722" stroke="#131722" stroke-width="0.15" text-anchor="end">120.00</text>
<text x="55.45" y="367.6" font-size="11" letter-spacing="0.45" fill="#131722" stroke="#131722" stroke-width="0.15" text-anchor="end">118.00</text>
<text x="55.45" y="56.2" font-size="11" letter-spacing="0.45" fill="#131722" stroke="#131722" stroke-width="0.15" text-anchor="end">136.00</text>
<rect x="12" y="26" width="48" height="29.3" fill="#ffffff"/>
<rect x="12.5" y="27.5" width="47" height="23.5" rx="4" fill="#ffffff" stroke="#f0f1f4"/>
<text x="21" y="43.3" font-size="11" fill="#131722" stroke="#131722" stroke-width="0.15">USD</text>
<rect x="12.5" y="214.5" width="49.5" height="27.5" rx="2" fill="#f23645"/>
<text x="55.3" y="225.8" font-size="11" letter-spacing="0.3" fill="#ffffff" text-anchor="end">126.22</text>
<text x="55.3" y="238.1" font-size="11" letter-spacing="0.3" fill="#ffffff" text-anchor="end">14:00</text>
<rect x="64" y="214.3" width="51" height="14.7" rx="2" fill="#f23645"/>
<text x="89.0" y="225.6" font-size="11" letter-spacing="-0.3" fill="#ffffff" text-anchor="middle">SOLUSD</text>
<g><path d="M 645.7 383.7 A 8.6 8.6 0 0 1 656.3 377.3" fill="none" stroke="#8a3fb5" stroke-width="1.6" stroke-linecap="round"/><path d="M 662.3 383.1 A 8.6 8.6 0 0 1 647.9 391.6" fill="none" stroke="#8a3fb5" stroke-width="1.6" stroke-linecap="round"/><circle cx="660" cy="379.5" r="2.3" fill="#e0284a"/><path d="M644 384.6 Q644.7 388.3 648.4 389 Q644.7 389.7 644 393.4 Q643.3 389.7 639.6 389 Q643.3 388.3 644 384.6 Z" fill="#5a4ff0"/><path d="M656.6 380.8 L651.4 386.6 L654.1 386.6 L651.8 391.2 L657.2 385.0 L654.4 385.0 Z" fill="#8a2fb0" stroke="#8a2fb0" stroke-width="0.4" stroke-linejoin="round"/></g>
<g><circle cx="830.9" cy="385.5" r="9.0" fill="#ffffff" stroke="#d8343f" stroke-width="1.7"/><rect x="823.8" y="378.9" width="8.4" height="7.7" fill="#3b8ee8"/><path d="M823.8 381.4 H832.2 M823.8 383.9 H832.2 M826.6 378.9 V386.6 M829.4 378.9 V386.6" stroke="#bfe3ff" stroke-width="0.6"/><rect x="832.2" y="384" width="5.7" height="2.6" fill="#e53a4a"/><rect x="825.8" y="389.1" width="10.1" height="2.6" fill="#e53a4a"/></g>
<line x1="9" y1="397.5" x2="1015" y2="397.5" stroke="#ebebee"/>
<line x1="9" y1="505" x2="1015" y2="505" stroke="#ebebee"/>
<line x1="62.5" y1="423" x2="930" y2="423" stroke="#f2f3f5"/>
<line x1="62.5" y1="456.5" x2="930" y2="456.5" stroke="#f2f3f5"/>
<line x1="62.5" y1="490.5" x2="930" y2="490.5" stroke="#f2f3f5"/>
<g clip-path="url(#cc)">
<rect x="63.24" y="490" width="1.5" height="1.9" fill="#faa1a4"/>
<rect x="66.14" y="488.7" width="1.5" height="1.3" fill="#a5d6a7"/>
<rect x="69.05" y="488.8" width="1.5" height="1.2" fill="#a5d6a7"/>
<rect x="71.95" y="488.7" width="1.5" height="1.3" fill="#a5d6a7"/>
<rect x="74.85" y="490" width="1.5" height="0.9" fill="#faa1a4"/>
<rect x="77.76" y="490" width="1.5" height="2.0" fill="#faa1a4"/>
<rect x="80.66" y="490" width="1.5" height="1.4" fill="#faa1a4"/>
<rect x="83.56" y="490" width="1.5" height="2.2" fill="#faa1a4"/>
<rect x="86.47" y="490" width="1.5" height="2.6" fill="#faa1a4"/>
<rect x="89.37" y="490" width="1.5" height="2.8" fill="#faa1a4"/>
<rect x="92.27" y="490" width="1.5" height="1.4" fill="#faa1a4"/>
<rect x="95.18" y="477.5" width="1.5" height="12.5" fill="#a5d6a7"/>
<rect x="98.08" y="471.7" width="1.5" height="18.3" fill="#a5d6a7"/>
<rect x="100.98" y="471.2" width="1.5" height="18.8" fill="#a5d6a7"/>
<rect x="103.88" y="472.6" width="1.5" height="17.4" fill="#a5d6a7"/>
<rect x="106.79" y="475.4" width="1.5" height="14.6" fill="#a5d6a7"/>
<rect x="109.69" y="476.3" width="1.5" height="13.7" fill="#a5d6a7"/>
<rect x="112.59" y="472.0" width="1.5" height="18.0" fill="#a5d6a7"/>
<rect x="115.50" y="472.0" width="1.5" height="18.0" fill="#a5d6a7"/>
<rect x="118.40" y="472.0" width="1.5" height="18.0" fill="#a5d6a7"/>
<rect x="121.30" y="473.0" width="1.5" height="17.0" fill="#a5d6a7"/>
<rect x="124.20" y="473.0" width="1.5" height="17.0" fill="#a5d6a7"/>
<rect x="127.11" y="474.0" width="1.5" height="16.0" fill="#a5d6a7"/>
<rect x="130.01" y="475.8" width="1.5" height="14.2" fill="#a5d6a7"/>
<rect x="132.91" y="477.8" width="1.5" height="12.2" fill="#a5d6a7"/>
<rect x="135.82" y="479.7" width="1.5" height="10.3" fill="#a5d6a7"/>
<rect x="138.72" y="483.3" width="1.5" height="6.7" fill="#a5d6a7"/>
<rect x="141.62" y="486.4" width="1.5" height="3.6" fill="#a5d6a7"/>
<rect x="144.53" y="490" width="1.5" height="14.5" fill="#faa1a4"/>
<rect x="147.43" y="490" width="1.5" height="14.5" fill="#faa1a4"/>
<rect x="150.33" y="490" width="1.5" height="14.5" fill="#faa1a4"/>
<rect x="153.24" y="490" width="1.5" height="14.5" fill="#faa1a4"/>
<rect x="156.14" y="490" width="1.5" height="14.5" fill="#faa1a4"/>
<rect x="159.04" y="490" width="1.5" height="14.5" fill="#faa1a4"/>
<rect x="161.94" y="490" width="1.5" height="14.5" fill="#faa1a4"/>
<rect x="164.85" y="490" width="1.5" height="14.5" fill="#faa1a4"/>
<rect x="167.75" y="490" width="1.5" height="14.5" fill="#faa1a4"/>
<rect x="170.65" y="490" width="1.5" height="14.5" fill="#faa1a4"/>
<rect x="173.56" y="490" width="1.5" height="14.5" fill="#faa1a4"/>
<rect x="176.46" y="490" width="1.5" height="14.5" fill="#faa1a4"/>
<rect x="179.36" y="490" width="1.5" height="14.5" fill="#faa1a4"/>
<rect x="182.26" y="490" width="1.5" height="14.5" fill="#faa1a4"/>
<rect x="185.17" y="490" width="1.5" height="14.5" fill="#faa1a4"/>
<rect x="188.07" y="490" width="1.5" height="14.5" fill="#faa1a4"/>
<rect x="190.97" y="490" width="1.5" height="14.5" fill="#faa1a4"/>
<rect x="193.88" y="490" width="1.5" height="14.5" fill="#faa1a4"/>
<rect x="196.78" y="490" width="1.5" height="14.5" fill="#faa1a4"/>
<rect x="199.68" y="490" width="1.5" height="14.1" fill="#faa1a4"/>
<rect x="202.59" y="490" width="1.5" height="11.2" fill="#faa1a4"/>
<rect x="205.49" y="479.1" width="1.5" height="10.9" fill="#a5d6a7"/>
<rect x="208.39" y="476.1" width="1.5" height="13.9" fill="#a5d6a7"/>
<rect x="211.30" y="479.0" width="1.5" height="11.0" fill="#a5d6a7"/>
<rect x="214.20" y="482.6" width="1.5" height="7.4" fill="#a5d6a7"/>
<rect x="217.10" y="486.6" width="1.5" height="3.4" fill="#a5d6a7"/>
<rect x="220.00" y="487.7" width="1.5" height="2.3" fill="#a5d6a7"/>
<rect x="222.91" y="487.8" width="1.5" height="2.2" fill="#a5d6a7"/>
<rect x="225.81" y="490" width="1.5" height="0.8" fill="#faa1a4"/>
<rect x="228.71" y="490" width="1.5" height="1.1" fill="#faa1a4"/>
<rect x="231.62" y="490" width="1.5" height="2.3" fill="#faa1a4"/>
<rect x="234.52" y="490" width="1.5" height="1.6" fill="#faa1a4"/>
<rect x="237.42" y="490" width="1.5" height="2.4" fill="#faa1a4"/>
<rect x="240.33" y="490" width="1.5" height="1.4" fill="#faa1a4"/>
<rect x="243.23" y="490" width="1.5" height="0.9" fill="#faa1a4"/>
<rect x="246.13" y="490" width="1.5" height="1.8" fill="#faa1a4"/>
<rect x="249.03" y="490" width="1.5" height="2.0" fill="#faa1a4"/>
<rect x="251.94" y="490" width="1.5" height="1.2" fill="#faa1a4"/>
<rect x="254.84" y="489.1" width="1.5" height="0.9" fill="#a5d6a7"/>
<rect x="257.74" y="488.7" width="1.5" height="1.3" fill="#a5d6a7"/>
<rect x="260.65" y="487.7" width="1.5" height="2.3" fill="#a5d6a7"/>
<rect x="263.55" y="488.0" width="1.5" height="2.0" fill="#a5d6a7"/>
<rect x="266.45" y="489.0" width="1.5" height="1.0" fill="#a5d6a7"/>
<rect x="269.36" y="488.8" width="1.5" height="1.2" fill="#a5d6a7"/>
<rect x="272.26" y="489.0" width="1.5" height="1.0" fill="#a5d6a7"/>
<rect x="275.16" y="489.1" width="1.5" height="0.9" fill="#a5d6a7"/>
<rect x="278.06" y="487.9" width="1.5" height="2.1" fill="#a5d6a7"/>
<rect x="280.97" y="488.9" width="1.5" height="1.1" fill="#a5d6a7"/>
<rect x="283.87" y="490" width="1.5" height="5.2" fill="#faa1a4"/>
<rect x="286.77" y="490" width="1.5" height="11.6" fill="#faa1a4"/>
<rect x="289.68" y="490" width="1.5" height="10.6" fill="#faa1a4"/>
<rect x="292.58" y="490" width="1.5" height="8.9" fill="#faa1a4"/>
<rect x="295.48" y="490" width="1.5" height="8.7" fill="#faa1a4"/>
<rect x="298.38" y="490" width="1.5" height="8.6" fill="#faa1a4"/>
<rect x="301.29" y="490" width="1.5" height="8.6" fill="#faa1a4"/>
<rect x="304.19" y="490" width="1.5" height="8.6" fill="#faa1a4"/>
<rect x="307.09" y="490" width="1.5" height="8.7" fill="#faa1a4"/>
<rect x="310.00" y="490" width="1.5" height="8.8" fill="#faa1a4"/>
<rect x="312.90" y="490" width="1.5" height="8.8" fill="#faa1a4"/>
<rect x="315.80" y="490" width="1.5" height="8.9" fill="#faa1a4"/>
<rect x="318.71" y="490" width="1.5" height="9.0" fill="#faa1a4"/>
<rect x="321.61" y="490" width="1.5" height="8.9" fill="#faa1a4"/>
<rect x="324.51" y="490" width="1.5" height="8.8" fill="#faa1a4"/>
<rect x="327.42" y="490" width="1.5" height="8.7" fill="#faa1a4"/>
<rect x="330.32" y="490" width="1.5" height="8.6" fill="#faa1a4"/>
<rect x="333.22" y="490" width="1.5" height="8.5" fill="#faa1a4"/>
<rect x="336.12" y="490" width="1.5" height="8.2" fill="#faa1a4"/>
<rect x="339.03" y="490" width="1.5" height="7.8" fill="#faa1a4"/>
<rect x="341.93" y="490" width="1.5" height="7.3" fill="#faa1a4"/>
<rect x="344.83" y="490" width="1.5" height="6.4" fill="#faa1a4"/>
<rect x="347.74" y="490" width="1.5" height="3.5" fill="#faa1a4"/>
<rect x="350.64" y="484.8" width="1.5" height="5.2" fill="#a5d6a7"/>
<rect x="353.54" y="490" width="1.5" height="1.7" fill="#faa1a4"/>
<rect x="356.44" y="490" width="1.5" height="1.5" fill="#faa1a4"/>
<rect x="359.35" y="490" width="1.5" height="1.1" fill="#faa1a4"/>
<rect x="362.25" y="490" width="1.5" height="2.0" fill="#faa1a4"/>
<rect x="365.15" y="490" width="1.5" height="1.0" fill="#faa1a4"/>
<rect x="368.06" y="490" width="1.5" height="1.8" fill="#faa1a4"/>
<rect x="370.96" y="490" width="1.5" height="1.0" fill="#faa1a4"/>
<rect x="373.86" y="488.5" width="1.5" height="1.5" fill="#a5d6a7"/>
<rect x="376.77" y="488.9" width="1.5" height="1.1" fill="#a5d6a7"/>
<rect x="379.67" y="488.8" width="1.5" height="1.2" fill="#a5d6a7"/>
<rect x="382.57" y="487.6" width="1.5" height="2.4" fill="#a5d6a7"/>
<rect x="385.48" y="487.9" width="1.5" height="2.1" fill="#a5d6a7"/>
<rect x="388.38" y="488.7" width="1.5" height="1.3" fill="#a5d6a7"/>
<rect x="391.28" y="487.8" width="1.5" height="2.2" fill="#a5d6a7"/>
<rect x="394.18" y="487.4" width="1.5" height="2.6" fill="#a5d6a7"/>
<rect x="397.09" y="484.8" width="1.5" height="5.2" fill="#a5d6a7"/>
<rect x="399.99" y="481.2" width="1.5" height="8.8" fill="#a5d6a7"/>
<rect x="402.89" y="488.9" width="1.5" height="1.1" fill="#a5d6a7"/>
<rect x="405.80" y="487.7" width="1.5" height="2.3" fill="#a5d6a7"/>
<rect x="408.70" y="487.5" width="1.5" height="2.5" fill="#a5d6a7"/>
<rect x="411.60" y="487.2" width="1.5" height="2.8" fill="#a5d6a7"/>
<rect x="414.50" y="487.0" width="1.5" height="3.0" fill="#a5d6a7"/>
<rect x="417.41" y="487.2" width="1.5" height="2.8" fill="#a5d6a7"/>
<rect x="420.31" y="487.3" width="1.5" height="2.7" fill="#a5d6a7"/>
<rect x="423.21" y="487.4" width="1.5" height="2.6" fill="#a5d6a7"/>
<rect x="426.12" y="488.6" width="1.5" height="1.4" fill="#a5d6a7"/>
<rect x="429.02" y="487.8" width="1.5" height="2.2" fill="#a5d6a7"/>
<rect x="431.92" y="488.2" width="1.5" height="1.8" fill="#a5d6a7"/>
<rect x="434.83" y="490" width="1.5" height="1.0" fill="#faa1a4"/>
<rect x="437.73" y="490" width="1.5" height="2.4" fill="#faa1a4"/>
<rect x="440.63" y="490" width="1.5" height="1.1" fill="#faa1a4"/>
<rect x="443.54" y="490" width="1.5" height="1.2" fill="#faa1a4"/>
<rect x="446.44" y="490" width="1.5" height="2.0" fill="#faa1a4"/>
<rect x="449.34" y="490" width="1.5" height="1.3" fill="#faa1a4"/>
<rect x="452.24" y="490" width="1.5" height="1.3" fill="#faa1a4"/>
<rect x="455.15" y="490" width="1.5" height="0.9" fill="#faa1a4"/>
<rect x="458.05" y="490" width="1.5" height="13.6" fill="#faa1a4"/>
<rect x="460.95" y="490" width="1.5" height="14.5" fill="#faa1a4"/>
<rect x="463.86" y="490" width="1.5" height="14.5" fill="#faa1a4"/>
<rect x="466.76" y="490" width="1.5" height="14.5" fill="#faa1a4"/>
<rect x="469.66" y="490" width="1.5" height="14.5" fill="#faa1a4"/>
<rect x="472.56" y="490" width="1.5" height="14.5" fill="#faa1a4"/>
<rect x="475.47" y="490" width="1.5" height="14.5" fill="#faa1a4"/>
<rect x="478.37" y="490" width="1.5" height="14.5" fill="#faa1a4"/>
<rect x="481.27" y="490" width="1.5" height="14.5" fill="#faa1a4"/>
<rect x="484.18" y="490" width="1.5" height="14.5" fill="#faa1a4"/>
<rect x="487.08" y="490" width="1.5" height="14.5" fill="#faa1a4"/>
<rect x="489.98" y="490" width="1.5" height="14.5" fill="#faa1a4"/>
<rect x="492.89" y="490" width="1.5" height="14.5" fill="#faa1a4"/>
<rect x="495.79" y="490" width="1.5" height="14.5" fill="#faa1a4"/>
<rect x="498.69" y="490" width="1.5" height="14.5" fill="#faa1a4"/>
<rect x="501.60" y="490" width="1.5" height="14.5" fill="#faa1a4"/>
<rect x="504.50" y="490" width="1.5" height="14.5" fill="#faa1a4"/>
<rect x="507.40" y="490" width="1.5" height="14.5" fill="#faa1a4"/>
<rect x="510.30" y="490" width="1.5" height="14.5" fill="#faa1a4"/>
<rect x="513.21" y="490" width="1.5" height="14.5" fill="#faa1a4"/>
<rect x="516.11" y="490" width="1.5" height="14.5" fill="#faa1a4"/>
<rect x="519.01" y="490" width="1.5" height="14.5" fill="#faa1a4"/>
<rect x="521.92" y="490" width="1.5" height="14.5" fill="#faa1a4"/>
<rect x="524.82" y="490" width="1.5" height="14.5" fill="#faa1a4"/>
<rect x="527.72" y="490" width="1.5" height="3.8" fill="#faa1a4"/>
<rect x="530.62" y="489.1" width="1.5" height="0.9" fill="#a5d6a7"/>
<rect x="533.53" y="483.0" width="1.5" height="7.0" fill="#a5d6a7"/>
<rect x="536.43" y="473.4" width="1.5" height="16.6" fill="#a5d6a7"/>
<rect x="539.33" y="471.0" width="1.5" height="19.0" fill="#a5d6a7"/>
<rect x="542.24" y="471.0" width="1.5" height="19.0" fill="#a5d6a7"/>
<rect x="545.14" y="471.9" width="1.5" height="18.1" fill="#a5d6a7"/>
<rect x="548.04" y="475.6" width="1.5" height="14.4" fill="#a5d6a7"/>
<rect x="550.95" y="479.8" width="1.5" height="10.2" fill="#a5d6a7"/>
<rect x="553.85" y="480.2" width="1.5" height="9.8" fill="#a5d6a7"/>
<rect x="556.75" y="486.0" width="1.5" height="4.0" fill="#a5d6a7"/>
<rect x="559.65" y="490" width="1.5" height="1.7" fill="#faa1a4"/>
<rect x="562.56" y="490" width="1.5" height="1.2" fill="#faa1a4"/>
<rect x="565.46" y="490" width="1.5" height="1.8" fill="#faa1a4"/>
<rect x="568.36" y="490" width="1.5" height="1.4" fill="#faa1a4"/>
<rect x="571.27" y="490" width="1.5" height="2.3" fill="#faa1a4"/>
<rect x="574.17" y="490" width="1.5" height="5.9" fill="#faa1a4"/>
<rect x="577.07" y="490" width="1.5" height="9.5" fill="#faa1a4"/>
<rect x="579.98" y="490" width="1.5" height="10.5" fill="#faa1a4"/>
<rect x="582.88" y="490" width="1.5" height="9.3" fill="#faa1a4"/>
<rect x="585.78" y="490" width="1.5" height="8.0" fill="#faa1a4"/>
<rect x="588.68" y="490" width="1.5" height="3.8" fill="#faa1a4"/>
<rect x="591.59" y="490" width="1.5" height="1.5" fill="#faa1a4"/>
<rect x="594.49" y="490" width="1.5" height="2.3" fill="#faa1a4"/>
<rect x="597.39" y="490" width="1.5" height="4.1" fill="#faa1a4"/>
<rect x="600.30" y="490" width="1.5" height="7.0" fill="#faa1a4"/>
<rect x="603.20" y="490" width="1.5" height="4.0" fill="#faa1a4"/>
<rect x="606.10" y="490" width="1.5" height="3.0" fill="#faa1a4"/>
<rect x="609.01" y="490" width="1.5" height="1.6" fill="#faa1a4"/>
<rect x="611.91" y="490" width="1.5" height="1.7" fill="#faa1a4"/>
<rect x="614.81" y="490" width="1.5" height="2.4" fill="#faa1a4"/>
<rect x="617.72" y="487.8" width="1.5" height="2.2" fill="#a5d6a7"/>
<rect x="620.62" y="484.1" width="1.5" height="5.9" fill="#a5d6a7"/>
<rect x="623.52" y="485.1" width="1.5" height="4.9" fill="#a5d6a7"/>
<rect x="626.42" y="486.1" width="1.5" height="3.9" fill="#a5d6a7"/>
<rect x="629.33" y="488.9" width="1.5" height="1.1" fill="#a5d6a7"/>
<rect x="632.23" y="487.3" width="1.5" height="2.7" fill="#a5d6a7"/>
<rect x="635.13" y="486.1" width="1.5" height="3.9" fill="#a5d6a7"/>
<rect x="638.04" y="481.4" width="1.5" height="8.6" fill="#a5d6a7"/>
<rect x="640.94" y="481.0" width="1.5" height="9.0" fill="#a5d6a7"/>
<rect x="643.84" y="482.7" width="1.5" height="7.3" fill="#a5d6a7"/>
<rect x="646.75" y="487.2" width="1.5" height="2.8" fill="#a5d6a7"/>
<rect x="649.65" y="490" width="1.5" height="1.0" fill="#faa1a4"/>
<rect x="652.55" y="490" width="1.5" height="2.3" fill="#faa1a4"/>
</g>
<path d="M126.5 460 L146.8 460 Q147.8 460 147.8 461 L147.8 472.4 Q147.8 473.4 146.8 473.4 L139 473.4 L136 477 L133 473.4 L126.5 473.4 Q125.5 473.4 125.5 472.4 L125.5 461 Q125.5 460 126.5 460 Z" fill="#f23645" fill-opacity="0.9"/>
<text x="136.6" y="469.3" font-size="7" fill="#ffffff" text-anchor="middle">-RD</text>
<text x="70.5" y="416.3" font-size="11" letter-spacing="0.135" fill="#131722" stroke="#131722" stroke-width="0.15">CVD Divergence Oscillator (2, 21, Periodic, Forex, Yes)</text>
<text x="355.4" y="416.3" font-size="11" letter-spacing="0.2" fill="#e24c5e" stroke="#e24c5e" stroke-width="0.15">−1,389.93</text>
<text x="992.5" y="426.7" font-size="11" letter-spacing="0.5" fill="#131722" stroke="#131722" stroke-width="0.15" text-anchor="end">50,000.00</text>
<text x="992.5" y="460.3" font-size="11" letter-spacing="0.5" fill="#131722" stroke="#131722" stroke-width="0.15" text-anchor="end">25,000.00</text>
<rect x="931" y="484.4" width="66.3" height="15" rx="2" fill="#f7525f"/>
<text x="993.5" y="495.8" font-size="11" letter-spacing="0.5" fill="#ffffff" text-anchor="end">−1,389.93</text>
<rect x="62.5" y="523.4" width="867.5" height="79.10000000000002" fill="#7e57c2" fill-opacity="0.1"/>
<line x1="62.5" y1="543.4" x2="930" y2="543.4" stroke="#ebe8f3" />
<line x1="62.5" y1="583" x2="930" y2="583" stroke="#ebe8f3" />
<line x1="62.5" y1="622.8" x2="930" y2="622.8" stroke="#ebe8f3" />
<line x1="63.1" y1="523.4" x2="930" y2="523.4" stroke="#8a8d96" stroke-dasharray="4.98 4.98"/>
<line x1="63.1" y1="563.2" x2="930" y2="563.2" stroke="#8a8d96" stroke-dasharray="4.98 4.98"/>
<line x1="63.1" y1="602.5" x2="930" y2="602.5" stroke="#8a8d96" stroke-dasharray="4.98 4.98"/>
<g clip-path="url(#cr)">
<polygon points="461.7,602.5 462.6,608.1 465.8,627.5 467.9,632.4 471.2,626.4 476.5,627.5 483.0,629.6 491.6,631.8 496.9,630.7 502.3,618.9 504.5,617.8 508.8,604.9 510.9,604.9 511.9,602.5" fill="url(#os)"/>
<path d="M63.8,585.0 C65.3,585.7 69.5,588.5 72.6,589.0 C75.7,589.5 79.4,588.3 82.3,588.0 C85.2,587.7 87.3,589.1 90.2,587.0 C93.1,584.9 96.0,578.9 99.9,575.3 C103.8,571.7 109.8,567.9 113.6,565.5 C117.3,563.1 119.0,563.5 122.4,560.7 C125.8,558.0 131.0,549.6 134.1,549.0 C137.2,548.4 138.5,554.0 140.9,556.8 C143.3,559.5 145.2,562.4 148.8,565.5 C152.3,568.6 158.2,571.4 162.4,575.3 C166.6,579.2 170.8,586.4 174.1,589.0 C177.4,591.6 178.4,591.7 182.0,591.0 C185.6,590.3 190.7,586.1 195.6,585.0 C200.5,583.9 205.4,584.7 211.3,584.1 C217.2,583.5 224.4,582.0 230.8,581.2 C237.2,580.4 245.2,579.9 250.0,579.2 C254.8,578.6 256.6,577.6 259.8,577.3 C263.1,577.0 265.9,578.4 269.5,577.3 C273.1,576.1 278.0,571.4 281.2,570.4 C284.5,569.4 285.7,570.6 289.0,571.4 C292.3,572.2 296.9,574.8 300.8,575.3 C304.7,575.8 308.6,573.6 312.5,574.3 C316.4,574.9 320.9,578.7 324.2,579.2 C327.4,579.7 329.4,578.3 332.0,577.3 C334.6,576.3 336.5,574.7 339.8,573.4 C343.1,572.1 347.0,571.1 351.6,569.5 C356.2,567.9 362.0,565.4 367.2,563.6 C372.4,561.8 378.2,559.8 382.8,558.7 C387.4,557.6 390.6,559.2 394.5,556.8 C398.4,554.3 402.3,547.3 406.2,544.0 C410.2,540.7 413.8,539.0 418.0,537.2 C422.2,535.4 428.4,533.3 431.6,533.3 C434.9,533.3 435.0,534.6 437.5,537.2 C440.0,539.8 443.6,546.0 446.4,549.0 C449.1,552.0 451.9,553.5 454.0,555.5 C456.1,557.5 456.6,556.8 459.3,560.9 C462.0,565.0 466.2,573.4 470.1,580.2 C474.1,587.0 478.4,593.8 483.0,601.7 C487.6,609.6 495.0,623.0 498.0,627.5 C501.0,632.0 499.1,629.0 501.2,628.5 C503.3,628.0 506.8,626.5 510.9,624.2 C515.0,621.9 521.2,618.0 525.9,614.6 C530.5,611.2 535.2,606.5 538.8,603.8 C542.4,601.1 543.8,598.9 547.4,598.5 C551.0,598.1 555.3,601.2 560.3,601.7 C565.3,602.2 573.2,602.4 577.5,601.7 C581.8,601.0 582.5,601.0 586.1,597.4 C589.7,593.8 594.7,585.4 599.0,580.2 C603.3,575.0 608.3,570.3 611.9,566.2 C615.5,562.1 618.0,558.0 620.5,555.5 C623.0,553.0 624.0,551.9 626.9,551.2 C629.8,550.5 634.3,550.7 637.7,551.2 C641.1,551.7 644.8,553.1 647.3,554.0 C649.8,554.9 651.8,556.2 652.7,556.6" fill="none" stroke="#f0e08e" stroke-width="1.7" stroke-linejoin="round"/>
<polyline points="63.8,591.9 69.6,584.1 75.5,572.4 78.4,571.4 82.3,585.0 84.3,587.0 87.2,575.3 90.2,590.0 95.0,550.9 98.0,542.1 101.9,547.0 106.8,543.0 110.7,566.5 113.6,560.7 117.5,559.7 119.5,563.6 122.4,559.7 127.3,534.3 131.2,544.0 134.1,544.0 139.0,583.1 145.8,599.7 150.7,599.7 152.7,598.8 156.6,589.0 161.4,590.0 165.4,585.0 172.2,589.0 175.1,591.9 177.1,581.2 181.0,582.1 183.0,586.0 188.8,580.2 193.7,583.1 197.6,584.1 206.4,592.5 211.3,572.4 216.1,575.3 221.0,589.0 225.9,571.4 230.8,575.3 237.6,584.1 241.5,585.0 244.5,579.2 247.4,580.2 252.3,565.5 256.8,573.4 260.7,575.3 267.6,579.2 270.5,585.1 273.4,561.6 276.4,552.9 278.9,563.6 281.2,551.9 284.2,563.6 290.0,597.8 295.9,577.3 298.8,583.1 301.8,584.1 305.7,574.3 308.6,574.3 311.5,567.5 314.5,583.1 319.3,573.4 322.3,574.3 326.2,571.4 329.1,573.4 336.9,557.7 340.8,575.3 342.8,576.3 345.7,561.6 348.6,559.7 351.6,563.6 355.5,575.3 357.4,574.3 362.3,561.6 369.1,556.8 374.0,549.0 377.9,553.8 383.8,549.0 388.7,561.6 391.6,561.6 401.4,510.9 403.3,510.5 406.2,523.6 413.1,539.2 416.0,536.2 419.0,521.6 420.9,520.6 424.8,541.1 429.7,554.8 432.6,548.0 435.5,563.6 438.5,566.5 442.1,573.8 444.3,573.8 447.5,579.1 449.7,577.0 452.9,564.1 456.1,561.3 459.3,586.6 462.6,608.1 465.8,627.5 467.9,632.4 471.2,626.4 476.5,627.5 483.0,629.6 491.6,631.8 496.9,630.7 502.3,618.9 504.5,617.8 508.8,604.9 510.9,604.9 514.1,597.0 518.4,602.1 522.7,597.0 531.3,598.5 534.5,604.9 539.9,590.5 544.2,597.4 547.4,599.5 551.7,615.6 554.9,606.0 560.3,616.7 563.5,596.3 566.8,595.2 568.9,589.9 572.1,593.1 574.3,601.7 577.5,596.3 581.8,586.6 584.0,585.6 588.2,563.0 591.5,556.6 599.0,545.4 602.2,552.3 607.6,544.7 609.7,544.7 613.0,551.2 615.7,539.8 618.3,550.1 622.2,567.3 624.8,555.5 626.9,552.3 631.2,558.7 636.6,561.9 642.0,548.0 647.3,554.4 650.5,569.5 653.8,573.3" fill="none" stroke="#7a5fc6" stroke-width="1.3" stroke-linejoin="round"/>
</g>
<text x="70.6" y="523.6" font-size="11" fill="#131722" stroke="#131722" stroke-width="0.15">RSI (14, close)</text>
<text x="150.7" y="523.6" font-size="11" letter-spacing="0.36" fill="#7e57c2" stroke="#7e57c2" stroke-width="0.15">44.99</text>
<text x="186.8" y="523.6" font-size="11" letter-spacing="0.36" fill="#f2d64b" stroke="#f2d64b" stroke-width="0.15">52.85</text>
<text x="969" y="547.3" font-size="11" letter-spacing="0.5" fill="#131722" stroke="#131722" stroke-width="0.15" text-anchor="end">60.00</text>
<text x="969" y="586.9" font-size="11" letter-spacing="0.5" fill="#131722" stroke="#131722" stroke-width="0.15" text-anchor="end">40.00</text>
<text x="969" y="626.7" font-size="11" letter-spacing="0.5" fill="#131722" stroke="#131722" stroke-width="0.15" text-anchor="end">20.00</text>
<rect x="931" y="550" width="42" height="15.2" rx="2" fill="#fdd835"/>
<text x="969" y="561.6" font-size="11" letter-spacing="0.5" fill="#131722" stroke="#131722" stroke-width="0.15" text-anchor="end">52.85</text>
<rect x="931" y="565.5" width="42" height="15.5" rx="2" fill="#7e57c2"/>
<text x="969" y="577.2" font-size="11" letter-spacing="0.5" fill="#ffffff" text-anchor="end">44.99</text>
<text x="110.5" y="650.6" font-size="11" letter-spacing="0.2" fill="#131722" stroke="#131722" stroke-width="0.15" text-anchor="middle">12:00</text>
<text x="180.2" y="650.6" font-size="11" letter-spacing="0.2" fill="#131722" stroke="#131722" stroke-width="0.15" text-anchor="middle">29</text>
<text x="249.9" y="650.6" font-size="11" letter-spacing="0.2" fill="#131722" stroke="#131722" stroke-width="0.15" text-anchor="middle">12:00</text>
<text x="319.6" y="650.6" font-size="11" letter-spacing="0.2" fill="#131722" stroke="#131722" stroke-width="0.15" text-anchor="middle">30</text>
<text x="389.2" y="650.6" font-size="11" letter-spacing="0.2" fill="#131722" stroke="#131722" stroke-width="0.15" text-anchor="middle">12:00</text>
<text x="458.9" y="650.6" font-size="11" letter-spacing="0.2" fill="#131722" text-anchor="middle" font-weight="bold">Dec</text>
<text x="528.6" y="650.6" font-size="11" letter-spacing="0.2" fill="#131722" stroke="#131722" stroke-width="0.15" text-anchor="middle">12:00</text>
<text x="598.2" y="650.6" font-size="11" letter-spacing="0.2" fill="#131722" stroke="#131722" stroke-width="0.15" text-anchor="middle">2</text>
<text x="667.9" y="650.6" font-size="11" letter-spacing="0.2" fill="#131722" stroke="#131722" stroke-width="0.15" text-anchor="middle">12:00</text>
<text x="737.6" y="650.6" font-size="11" letter-spacing="0.2" fill="#131722" stroke="#131722" stroke-width="0.15" text-anchor="middle">3</text>
<text x="807.3" y="650.6" font-size="11" letter-spacing="0.2" fill="#131722" stroke="#131722" stroke-width="0.15" text-anchor="middle">12:00</text>
<text x="876.9" y="650.6" font-size="11" letter-spacing="0.2" fill="#131722" stroke="#131722" stroke-width="0.15" text-anchor="middle">4</text>
<circle cx="36.1" cy="646.6" r="7.8" fill="#f2f2f4"/>
<text x="36.1" y="650.5" font-size="10" fill="#6a6d78" stroke="#6a6d78" stroke-width="0.15" text-anchor="middle">Z</text>
<circle cx="972.7" cy="646.7" r="7.8" fill="#f2f2f4"/>
<text x="972.7" y="650.6" font-size="10" fill="#6a6d78" stroke="#6a6d78" stroke-width="0.15" text-anchor="middle">A</text>
<rect x="8.5" y="24.5" width="1007" height="633.5" fill="none" stroke="#f0f0f2"/>
<g fill="#131722"><path d="M11.1 678.6 H21.8 V691.6 H15.9 V683.3 H11.1 Z"/><circle cx="26.1" cy="681" r="2.3"/><path d="M30.8 678.6 H37.4 L32.7 691.6 H26.9 Z"/></g>
<text x="44.9" y="691.8" font-size="18.6" font-weight="bold" fill="#131722">TradingView</text>
</svg>
</body></html>
